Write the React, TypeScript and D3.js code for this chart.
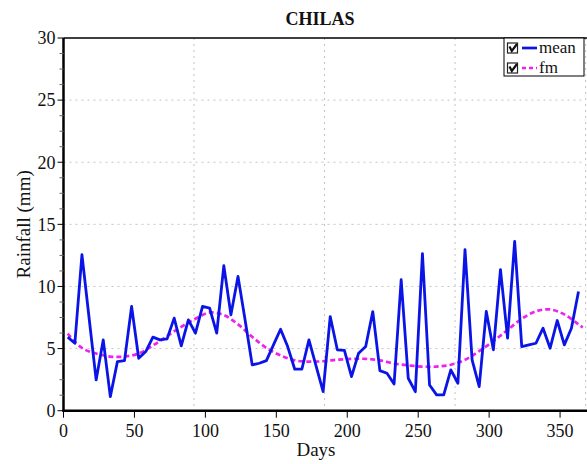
import React from "react";
import * as d3 from "d3";

const title = "CHILAS";
const xTicks = [0, 50, 100, 150, 200, 250, 300, 350];
const yTicks = [0, 5, 10, 15, 20, 25, 30];
const xGrid = [92, 184, 276, 368];

// mean rainfall at pentad days 3, 8, ..., 363
const meanDays = d3.range(73).map((i) => 3 + 5 * i);
const meanValues = [
  5.92, 5.43, 12.56, 7.5, 2.48, 5.7, 1.13, 3.95, 4.03, 8.39,
  4.22, 4.76, 5.92, 5.7, 5.78, 7.45, 5.22, 7.31, 6.24, 8.39,
  8.26, 6.24, 11.67, 7.72, 10.81,
  7.3, 3.69, 3.82, 4.03, 5.3, 6.56, 5.16, 3.34, 3.34, 5.7,
  3.6, 1.53, 7.58, 4.9, 4.86, 2.74, 4.63, 5.16, 7.98, 3.23,
  3.01, 2.15, 10.54,
  2.61, 1.53, 12.64, 2.07, 1.27, 1.27, 3.28, 2.21, 12.96, 4.09,
  1.94, 7.99, 4.9, 11.35, 5.84, 13.63, 5.16, 5.3, 5.43, 6.64,
  5.03, 7.26, 5.3, 6.64, 9.6,
];

// fitted mean (fm) read at days 3, 13, ..., 363, plus end
const fmDays = [...d3.range(37).map((i) => 3 + 10 * i), 366];
const fmValues = [
  6.2, 5.05, 4.6, 4.36, 4.36, 4.6, 5.25, 6.0, 6.75, 7.4,
  7.9, 7.7, 6.95, 5.95, 5.05, 4.45, 4.05, 3.95, 3.98, 4.1,
  4.17, 4.17, 4.05, 3.8, 3.65, 3.55, 3.55, 3.7, 4.1, 4.8,
  5.6, 6.5, 7.4, 8.0, 8.15, 7.75, 6.95, 6.7,
];

const W = 587;
const H = 464;
const L = 63.5;
const R = 585.6;
const T = 38;
const B = 410.7;
const FONT = "'Liberation Serif', 'Times New Roman', serif";

export default function App() {
  const x = d3.scaleLinear().domain([0, 368]).range([L, R]);
  const y = d3.scaleLinear().domain([0, 30]).range([B, T]);

  const meanLine = d3
    .line<number>()
    .x((_, i) => x(meanDays[i]))
    .y((d) => y(d));
  const fmLine = d3
    .line<number>()
    .x((_, i) => x(fmDays[i]))
    .y((d) => y(d))
    .curve(d3.curveCatmullRom);

  const minor = d3.range(0, 30.01, 1.25).filter((v) => v % 5 !== 0);

  return (
    <svg
      width={W}
      height={H}
      style={{ position: "absolute", left: 0, top: 0, background: "#fff" }}
      fontFamily={FONT}
    >
      <rect x={0} y={0} width={W} height={H} fill="#fff" />
      {/* grid */}
      {yTicks.filter((v) => v > 0 && v < 30).map((v) => (
        <line key={"gy" + v} x1={L} x2={R} y1={y(v)} y2={y(v)} stroke="#c4c4c4" strokeDasharray="2,4" strokeWidth={1} />
      ))}
      {xGrid.map((v) => (
        <line key={"gx" + v} x1={x(v)} x2={x(v)} y1={T} y2={B} stroke="#c4c4c4" strokeDasharray="2,4" strokeWidth={1} />
      ))}

      {/* data */}
      <path d={fmLine(fmValues) || ""} fill="none" stroke="#ee22ee" strokeWidth={2.7} strokeDasharray="5,3" />
      <path d={meanLine(meanValues) || ""} fill="none" stroke="#0a14e6" strokeWidth={2.8} strokeLinejoin="round" />

      {/* axes */}
      <line x1={L} x2={W} y1={T} y2={T} stroke="#000" strokeWidth={1.5} />
      <line x1={L} x2={L} y1={T} y2={B + 1} stroke="#000" strokeWidth={2.5} />
      <line x1={L - 1} x2={W} y1={B} y2={B} stroke="#000" strokeWidth={2.5} />

      {minor.map((v) => (
        <line key={"m" + v} x1={L - 4} x2={L} y1={y(v)} y2={y(v)} stroke="#666" strokeWidth={1} />
      ))}
      {yTicks.map((v) => (
        <g key={"yt" + v}>
          <line x1={L - 6} x2={L} y1={y(v)} y2={y(v)} stroke="#000" strokeWidth={1} />
          <text x={L - 8} y={y(v)} dy="0.35em" textAnchor="end" fontSize={18} fill="#111">
            {v}
          </text>
        </g>
      ))}
      {xTicks.map((v) => (
        <g key={"xt" + v}>
          <line x1={x(v)} x2={x(v)} y1={B} y2={B + 7} stroke="#000" strokeWidth={1} />
          <text x={x(v)} y={B + 26} textAnchor="middle" fontSize={18} fill="#111">
            {v}
          </text>
        </g>
      ))}

      <text x={316} y={456} textAnchor="middle" fontSize={19} fill="#111">
        Days
      </text>
      <text
        transform={`translate(30,${(T + B) / 2}) rotate(-90)`}
        textAnchor="middle"
        fontSize={19}
        fill="#111"
      >
        Rainfall (mm)
      </text>
      <text x={320} y={25} textAnchor="middle" fontSize={18} fontWeight="bold" fill="#111">
        {title}
      </text>

      {/* legend */}
      <rect x={504} y={T} width={80} height={38} fill="#fff" stroke="#000" strokeWidth={1} />
      {[
        { label: "mean", color: "#0a14e6", dash: undefined, yy: 48 },
        { label: "fm", color: "#ee22ee", dash: "4,3", yy: 68 },
      ].map((e) => (
        <g key={e.label}>
          <rect x={507.5} y={e.yy - 5} width={10} height={10} fill="#fff" stroke="#222" strokeWidth={1.2} />
          <path
            d={`M${509.5},${e.yy - 1.5} L${511.8},${e.yy + 3} L${517},${e.yy - 4}`}
            fill="none"
            stroke="#111"
            strokeWidth={2.2}
          />
          <line x1={522} x2={537} y1={e.yy} y2={e.yy} stroke={e.color} strokeWidth={2.7} strokeDasharray={e.dash} />
          <text x={539} y={e.yy + 5} fontSize={17} fill="#111">
            {e.label}
          </text>
        </g>
      ))}
    </svg>
  );
}
